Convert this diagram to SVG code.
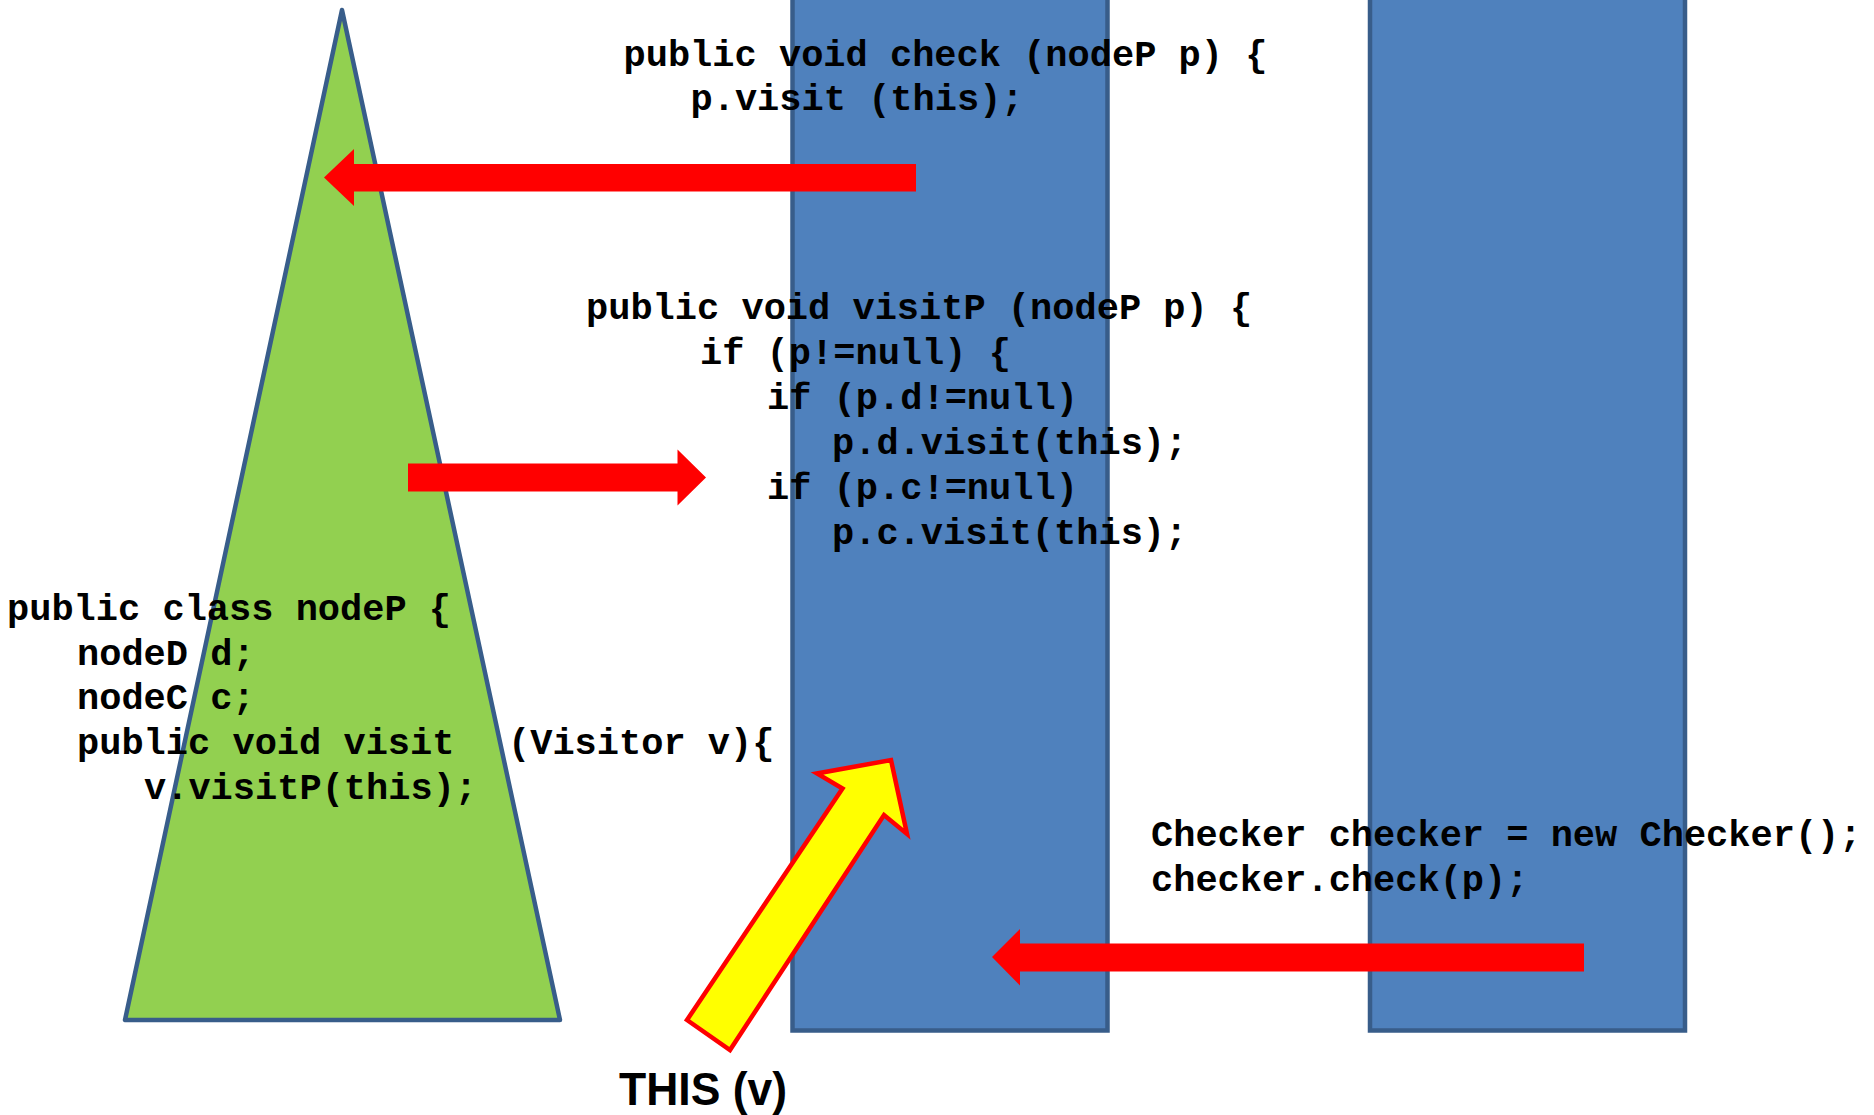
<svg xmlns="http://www.w3.org/2000/svg" width="1874" height="1115" viewBox="0 0 1874 1115">
<style>
.code{font-family:"Liberation Mono","Courier New",monospace;font-weight:bold;font-size:37px;fill:#000}
.col{fill:#4f81bd;stroke:#385d8a;stroke-width:4.5}
.red{fill:#ff0000}
.lbl{font-family:"Liberation Sans",Arial,sans-serif;font-weight:bold;font-size:47px;fill:#000}
</style>
<rect width="1874" height="1115" fill="#ffffff"/>
<g id="tree">
<polygon points="342,10 125,1020 560,1020" fill="#92d050" stroke="#385d8a" stroke-width="4.5" stroke-linejoin="round"/>
</g>
<g id="checkerColumn">
<rect class="col" x="792.5" y="-10" width="315" height="1040.5"/>
</g>
<g id="clientColumn">
<rect class="col" x="1370" y="-10" width="315" height="1040.5"/>
</g>
<g id="connectors">
<polygon class="red" points="324,177.5 354,149 354,164 916,164 916,191.5 354,191.5 354,206"/>
<polygon class="red" points="706,477.5 677.5,449.5 677.5,463.5 408,463.5 408,491.5 677.5,491.5 677.5,505.5"/>
<polygon class="red" points="992,957 1020,929 1020,943.5 1584,943.5 1584,971.5 1020,971.5 1020,985.5"/>
<polygon points="891,760 907,834 884,815 730,1050 687,1020 842.5,788.5 817,773.5" fill="#ffff00" stroke="#ff0000" stroke-width="4.5"/>
</g>
<g id="checkCode">
<text class="code" x="623.5" y="66">public void check (nodeP p) {</text>
<text class="code" x="690.5" y="110">p.visit (this);</text>
</g>
<g id="visitPCode">
<text class="code" x="586" y="319">public void visitP (nodeP p) {</text>
<text class="code" x="700" y="364">if (p!=null) {</text>
<text class="code" x="767" y="409">if (p.d!=null)</text>
<text class="code" x="832" y="454">p.d.visit(this);</text>
<text class="code" x="767" y="499">if (p.c!=null)</text>
<text class="code" x="832" y="543.5">p.c.visit(this);</text>
</g>
<g id="nodePCode">
<text class="code" x="7" y="620">public class nodeP {</text>
<text class="code" x="77" y="665">nodeD d;</text>
<text class="code" x="77" y="709">nodeC c;</text>
<text class="code" x="77" y="754">public void visit<tspan x="508">(Visitor v){</tspan></text>
<text class="code" x="144" y="799">v.visitP(this);</text>
</g>
<g id="clientCode">
<text class="code" x="1151" y="846">Checker checker = new Checker();</text>
<text class="code" x="1151" y="890.5">checker.check(p);</text>
</g>
<g id="thisLabel">
<text class="lbl" x="619" y="1105" textLength="168" lengthAdjust="spacingAndGlyphs">THIS (v)</text>
</g>
</svg>
